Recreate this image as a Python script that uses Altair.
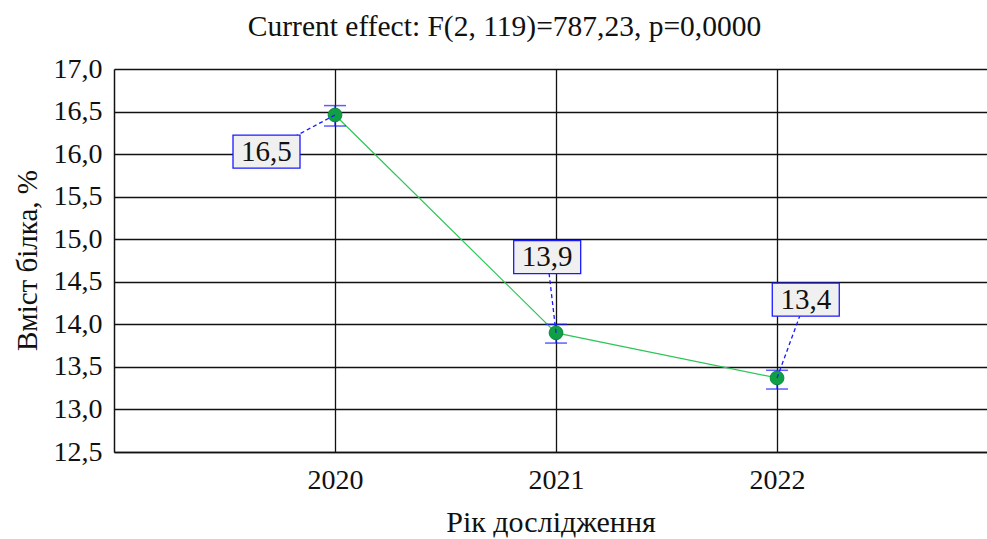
import altair as alt
import pandas as pd

# Protein content by study year (mean with confidence interval)
years = [2020, 2021, 2022]
means = [16.46, 13.90, 13.37]
lower = [16.33, 13.78, 13.24]
upper = [16.57, 14.00, 13.46]

# where each value box sits relative to its point (years, percent)
label_dx = [-0.31, -0.04, 0.13]
label_dy = [-0.43, 0.89, 0.92]

y_ticks = [12.5, 13.0, 13.5, 14.0, 14.5, 15.0, 15.5, 16.0, 16.5, 17.0]

FONT = "Liberation Serif"
BLUE = "#1a1aff"

df = pd.DataFrame({"year": years, "mean": means, "lower": lower, "upper": upper})
df["label"] = [f"{m:.1f}".replace(".", ",") for m in means]
df["lx"] = [y + d for y, d in zip(years, label_dx)]
df["ly"] = [m + d for m, d in zip(means, label_dy)]

x_scale = alt.Scale(domain=[2019, 2022.95], nice=False, zero=False)
y_scale = alt.Scale(domain=[12.5, 17.0], nice=False, zero=False)

x_enc = alt.X(
    "year:Q",
    scale=x_scale,
    axis=alt.Axis(
        values=years, format="d", title="Рік дослідження",
        grid=True, ticks=False, tickSize=0, labelPadding=14,
        titleY=70, titleBaseline="middle", titleFontSize=30,
    ),
)
y_enc = alt.Y(
    "mean:Q",
    scale=y_scale,
    axis=alt.Axis(
        values=y_ticks, title="Вміст білка, %",
        labelExpr="replace(format(datum.value, '.1f'), '.', ',')",
        grid=True, ticks=False, tickSize=0, labelPadding=12,
        titleX=-87, titleY=191, titleAngle=-90,
        titleAlign="center", titleBaseline="middle", titleFontSize=29,
    ),
)

base = alt.Chart(df)

line = base.mark_line(color="#2ec55a", strokeWidth=1.2).encode(x=x_enc, y=y_enc)

err = base.mark_rule(color=BLUE, strokeWidth=1.2).encode(
    x="year:Q", y="lower:Q", y2="upper:Q"
)
cap_lo = base.mark_tick(orient="horizontal", size=22, thickness=1.5, color=BLUE).encode(
    x="year:Q", y="lower:Q"
)
cap_hi = base.mark_tick(orient="horizontal", size=22, thickness=1.5, color=BLUE).encode(
    x="year:Q", y="upper:Q"
)

points = base.mark_circle(size=190, color="#0f9f45", opacity=1,
                          stroke="#0b8a3a", strokeWidth=1).encode(
    x="year:Q", y="mean:Q"
)

leader = base.mark_rule(color=BLUE, strokeWidth=1.3, strokeDash=[4, 3]).encode(
    x="year:Q", y="mean:Q", x2="lx:Q", y2="ly:Q"
)

box = base.mark_rect(width=67, height=33, fill="#f0f0f0", stroke=BLUE,
                     strokeWidth=1.3).encode(x="lx:Q", y="ly:Q")

text = base.mark_text(font=FONT, fontSize=29, color="#111111",
                      baseline="middle", align="center").encode(
    x="lx:Q", y="ly:Q", text="label:N"
)

chart = (
    alt.layer(line, err, cap_lo, cap_hi, points, leader, box, text)
    .properties(
        width=873,
        height=383,
        autosize=alt.AutoSizeParams(type="none"),
        padding={"left": 114, "top": 69, "right": 0, "bottom": 87},
        background="white",
        title=alt.TitleParams(
            "Current effect: F(2, 119)=787,23, p=0,0000",
            font=FONT, fontSize=29.5, fontWeight="normal", color="#111111",
            anchor="middle", offset=13, dx=-46,
        ),
    )
    .configure_view(stroke=None)
    .configure_axis(
        labelFont=FONT, titleFont=FONT, labelFontSize=28,
        labelColor="#111111", titleColor="#111111", titleFontWeight="normal",
        gridColor="#111111", gridWidth=1.3, gridOpacity=1,
        domainColor="#111111", domainWidth=1.5,
    )
)

chart.save("out.html", embed_options={"renderer": "svg", "actions": False})
